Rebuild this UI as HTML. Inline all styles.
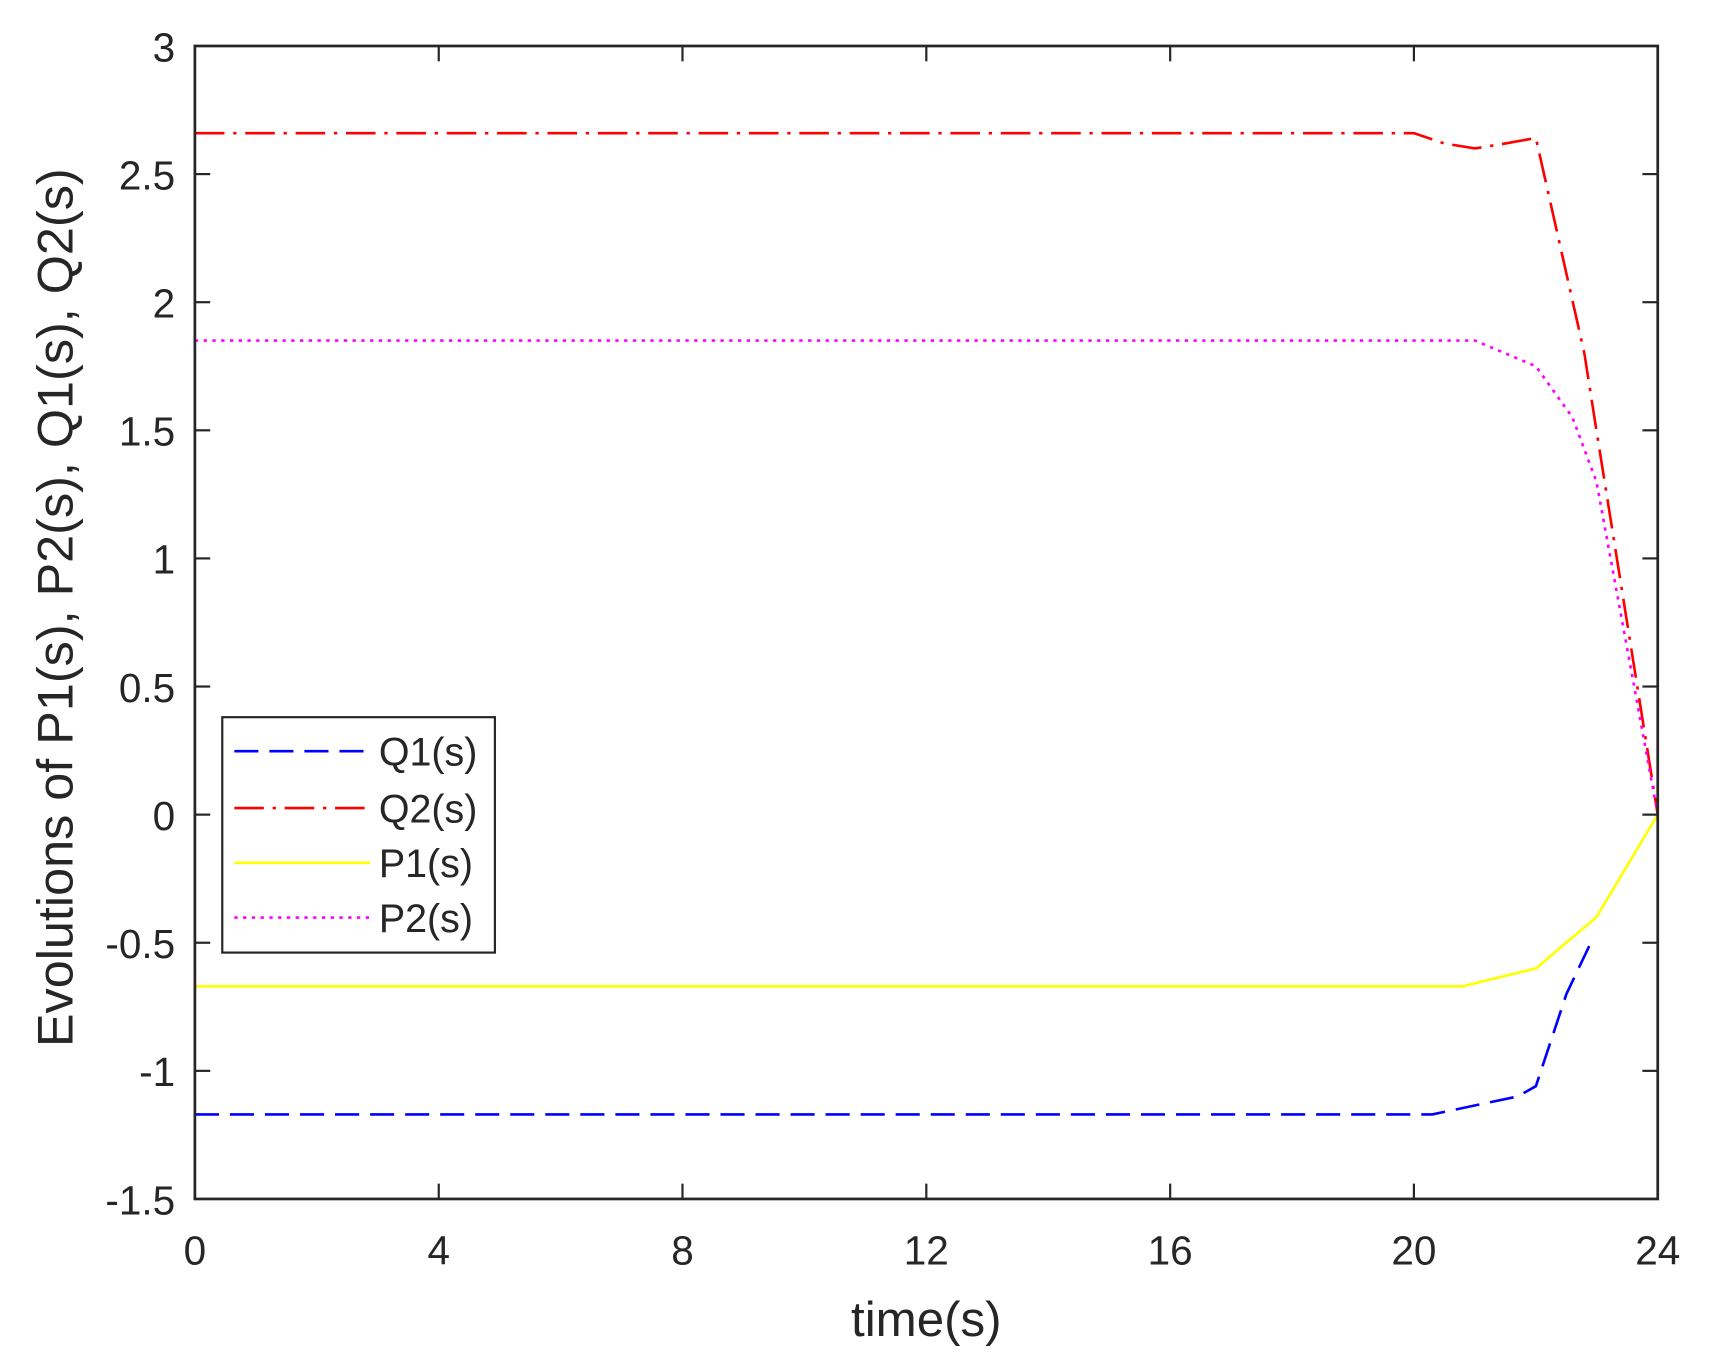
<!DOCTYPE html>
<html><head><style>html,body{margin:0;padding:0;background:#fff}svg{display:block}</style></head>
<body>
<svg width="1716" height="1364" viewBox="0 0 1560 1240" xmlns="http://www.w3.org/2000/svg" font-family="Liberation Sans, sans-serif" fill="#262626">
<rect x="0" y="0" width="1560" height="1240" fill="#fff"/>
<g transform="scale(0.9954)">
<g fill="none" stroke-width="2.4">
<polyline stroke="#0000ff" stroke-dasharray="22,10" points="178,1017.8 1308,1017.8 1386,1001.4 1402.7,992 1430.6,907.8 1452.9,861"/>
<polyline stroke="#ff0000" stroke-dasharray="27,8,3,8" points="178,121.6 1291.4,121.6 1319,131 1347,135.6 1375,131 1402.7,126 1447,322.8 1458,393 1514,744"/>
<polyline stroke="#ffff00" points="178,900.8 1336,900.8 1402.7,884.4 1458,837.6 1514,744"/>
<polyline stroke="#ff00ff" stroke-dasharray="3,5" points="178,311 1347,311 1402.7,334.5 1436,381 1458,439.8 1514,744"/>
</g>
<rect x="178" y="42" width="1336" height="1053" fill="none" stroke="#262626" stroke-width="2.5"/>
<g stroke="#262626" stroke-width="2">
<line x1="400.7" y1="1095" x2="400.7" y2="1081"/><line x1="623.3" y1="1095" x2="623.3" y2="1081"/><line x1="846" y1="1095" x2="846" y2="1081"/><line x1="1068.7" y1="1095" x2="1068.7" y2="1081"/><line x1="1291.3" y1="1095" x2="1291.3" y2="1081"/>
<line x1="400.7" y1="42" x2="400.7" y2="56"/><line x1="623.3" y1="42" x2="623.3" y2="56"/><line x1="846" y1="42" x2="846" y2="56"/><line x1="1068.7" y1="42" x2="1068.7" y2="56"/><line x1="1291.3" y1="42" x2="1291.3" y2="56"/>
<line x1="178" y1="159" x2="192" y2="159"/><line x1="178" y1="276" x2="192" y2="276"/><line x1="178" y1="393" x2="192" y2="393"/><line x1="178" y1="510" x2="192" y2="510"/><line x1="178" y1="627" x2="192" y2="627"/><line x1="178" y1="744" x2="192" y2="744"/><line x1="178" y1="861" x2="192" y2="861"/><line x1="178" y1="978" x2="192" y2="978"/>
<line x1="1514" y1="159" x2="1500" y2="159"/><line x1="1514" y1="276" x2="1500" y2="276"/><line x1="1514" y1="393" x2="1500" y2="393"/><line x1="1514" y1="510" x2="1500" y2="510"/><line x1="1514" y1="627" x2="1500" y2="627"/><line x1="1514" y1="744" x2="1500" y2="744"/><line x1="1514" y1="861" x2="1500" y2="861"/><line x1="1514" y1="978" x2="1500" y2="978"/>
</g>
<g font-size="37" text-anchor="end">
<text x="160" y="56">3</text><text x="160" y="173">2.5</text><text x="160" y="290">2</text><text x="160" y="407">1.5</text><text x="160" y="524">1</text><text x="160" y="641">0.5</text><text x="160" y="758">0</text><text x="160" y="875">-0.5</text><text x="160" y="992">-1</text><text x="160" y="1109">-1.5</text>
</g>
<g font-size="37" text-anchor="middle">
<text x="178" y="1155">0</text><text x="400.7" y="1155">4</text><text x="623.3" y="1155">8</text><text x="846" y="1155">12</text><text x="1068.7" y="1155">16</text><text x="1291.3" y="1155">20</text><text x="1514" y="1155">24</text>
</g>
<text x="846" y="1220" font-size="45" text-anchor="middle">time(s)</text>
<text transform="translate(66,555) rotate(-90)" font-size="46" text-anchor="middle">Evolutions of P1(s), P2(s), Q1(s), Q2(s)</text>
<rect x="203" y="655" width="249" height="215" fill="#fff" stroke="#262626" stroke-width="2"/>
<g fill="none" stroke-width="2.4">
<line x1="214" y1="686" x2="338" y2="686" stroke="#0000ff" stroke-dasharray="22,10"/>
<line x1="214" y1="738" x2="338" y2="738" stroke="#ff0000" stroke-dasharray="27,8,3,8"/>
<line x1="214" y1="788" x2="338" y2="788" stroke="#ffff00"/>
<line x1="214" y1="838" x2="338" y2="838" stroke="#ff00ff" stroke-dasharray="3,5"/>
</g>
<g font-size="36">
<text x="346" y="699">Q1(s)</text><text x="346" y="751">Q2(s)</text><text x="346" y="801">P1(s)</text><text x="346" y="851">P2(s)</text>
</g>
</g>
</svg>
</body></html>
